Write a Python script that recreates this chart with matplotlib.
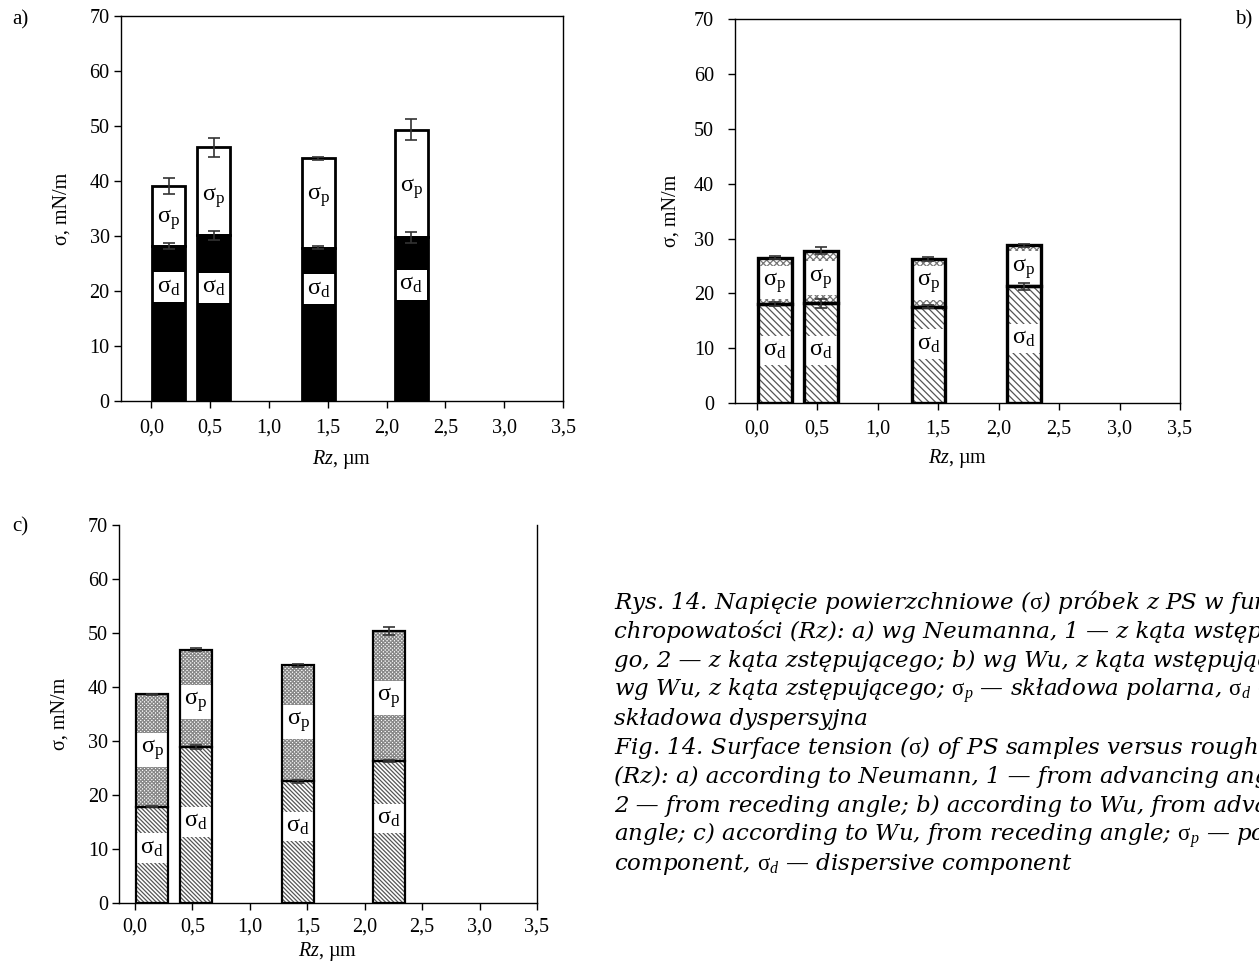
import matplotlib
matplotlib.use("Agg")
import matplotlib.pyplot as plt
import numpy as np

# ---- data -------------------------------------------------------------
rz = [0.15, 0.53, 1.42, 2.21]          # roughness Rz, um (bar centres)
bar_w = 0.28

# a) Neumann
neu_d = [28.2, 30.1, 27.9, 29.8]
neu_p = [10.9, 16.0, 16.2, 19.5]
neu_d_err = [0.5, 0.9, 0.2, 1.0]
neu_tot_err = [1.4, 1.8, 0.2, 1.9]

# b) Wu, advancing angle
wua_d = [18.1, 18.2, 17.6, 21.3]
wua_p = [8.4, 9.6, 8.7, 7.5]
wua_d_err = [0.3, 0.8, 0.3, 0.6]
wua_tot_err = [0.3, 0.6, 0.3, 0.3]

# c) Wu, receding angle
wur_d = [17.9, 29.0, 22.6, 26.3]
wur_p = [20.8, 18.0, 21.5, 24.1]
wur_d_err = [0.1, 0.4, 0.3, 0.2]
wur_tot_err = [0.1, 0.2, 0.3, 0.8]

x_ticks = [0.0, 0.5, 1.0, 1.5, 2.0, 2.5, 3.0, 3.5]
x_tick_labels = ["0,0", "0,5", "1,0", "1,5", "2,0", "2,5", "3,0", "3,5"]
y_ticks = [0, 10, 20, 30, 40, 50, 60, 70]

# vertical placement of the component labels inside the bars
lab_a_p = [32.9, 36.9, 37.1, 38.7]
lab_a_d = [20.7, 20.6, 20.3, 21.1]
lab_b_p = [22.0, 22.8, 21.9, 24.6]
lab_b_d = [9.6, 9.6, 10.8, 11.8]
lab_c_p = [28.4, 37.3, 33.6, 38.0]
lab_c_d = [10.2, 15.1, 14.2, 15.7]

caption = [
    "Rys. 14. Napięcie powierzchniowe ($\\mathrm{\\sigma}$) próbek z PS w funkcji",
    "chropowatości (Rz): a) wg Neumanna, 1 — z kąta wstępujące-",
    "go, 2 — z kąta zstępującego; b) wg Wu, z kąta wstępującego; c)",
    "wg Wu, z kąta zstępującego; $\\mathrm{\\sigma}_p$ — składowa polarna, $\\mathrm{\\sigma}_d$ —",
    "składowa dyspersyjna",
    "Fig. 14. Surface tension ($\\mathrm{\\sigma}$) of PS samples versus roughness",
    "(Rz): a) according to Neumann, 1 — from advancing angle,",
    "2 — from receding angle; b) according to Wu, from advancing",
    "angle; c) according to Wu, from receding angle; $\\mathrm{\\sigma}_p$ — polar",
    "component, $\\mathrm{\\sigma}_d$ — dispersive component",
]

# ---- style ------------------------------------------------------------
plt.rcParams["font.family"] = ["Liberation Serif", "DejaVu Serif"]
plt.rcParams["mathtext.fontset"] = "custom"
plt.rcParams["mathtext.rm"] = "Liberation Serif"
plt.rcParams["mathtext.it"] = "Liberation Serif:italic"
plt.rcParams["hatch.linewidth"] = 0.9

W, H = 1259, 967
fig = plt.figure(figsize=(W / 100, H / 100), dpi=100)


def box(l, r, t, b):
    return [l / W, 1 - b / H, (r - l) / W, (b - t) / H]


def setup(ax, xmin, tick_pad, ylab_pad, xpad=7.5, xlab_pad=8.0,
          right=True, top=True):
    ax.set_xlim(xmin, 3.5)
    ax.set_ylim(0, 70)
    ax.set_xticks(x_ticks)
    ax.set_xticklabels(x_tick_labels)
    ax.set_yticks(y_ticks)
    ax.tick_params(direction="out", length=5, width=1, labelsize=14.5,
                   top=False, right=False)
    ax.tick_params(axis="y", pad=tick_pad)
    ax.tick_params(axis="x", pad=xpad)
    for s in ax.spines.values():
        s.set_linewidth(1.0)
    ax.spines["right"].set_visible(right)
    ax.spines["top"].set_visible(top)
    ax.set_xlabel("$Rz$, µm", fontsize=14.5, labelpad=xlab_pad)
    ax.set_ylabel("σ, mN/m", fontsize=14.5, labelpad=ylab_pad)


def labels(ax, yp, yd, fs=17.5):
    for x, a, b in zip(rz, yp, yd):
        for y, t in ((a, r"$\mathrm{\sigma_{p}}$"), (b, r"$\mathrm{\sigma_{d}}$")):
            ax.text(x, y, t, ha="center", va="center", fontsize=fs, zorder=4,
                    bbox=dict(fc="white", ec="none", pad=3.2))


def errs(ax, d, p, d_err, tot_err, lw=1.2):
    tot = np.add(d, p)
    ax.errorbar(rz, d, yerr=d_err, fmt="none", ecolor="#333333",
                elinewidth=lw, capsize=4, capthick=lw, zorder=6)
    ax.errorbar(rz, tot, yerr=tot_err, fmt="none", ecolor="#333333",
                elinewidth=lw, capsize=4, capthick=lw, zorder=6)


def outline(ax, d, p, lw):
    ax.bar(rz, d, bar_w, fill=False, edgecolor="black", linewidth=lw, zorder=5)
    ax.bar(rz, p, bar_w, bottom=d, fill=False, edgecolor="black",
           linewidth=lw, zorder=5)


def hatched(ax, d, p, hd, hp, cd, cp, lw):
    ax.bar(rz, d, bar_w, color="white", edgecolor=cd, hatch=hd, linewidth=0,
           zorder=2)
    ax.bar(rz, p, bar_w, bottom=d, color="white", edgecolor=cp, hatch=hp,
           linewidth=0, zorder=2)
    outline(ax, d, p, lw)


# a) Neumann
ax_a = fig.add_axes(box(120.7, 563, 16, 401))
ax_a.bar(rz, neu_d, bar_w, color="black", linewidth=0, zorder=2)
ax_a.bar(rz, neu_p, bar_w, bottom=neu_d, color="white", linewidth=0, zorder=2)
outline(ax_a, neu_d, neu_p, 2.0)
labels(ax_a, lab_a_p, lab_a_d)
errs(ax_a, neu_d, neu_p, neu_d_err, neu_tot_err)
setup(ax_a, -0.26, 3, 13)

# b) Wu, advancing
ax_b = fig.add_axes(box(735, 1180, 19, 403.3))
hatched(ax_b, wua_d, wua_p, "\\" * 5, "x" * 5, "#555555", "#777777", 2.4)
labels(ax_b, lab_b_p, lab_b_d)
errs(ax_b, wua_d, wua_p, wua_d_err, wua_tot_err)
setup(ax_b, -0.18, 10, 10, xpad=7, xlab_pad=6)

# c) Wu, receding
ax_c = fig.add_axes(box(119, 537, 525.3, 903.3))
hatched(ax_c, wur_d, wur_p, "\\" * 8, "x" * 9, "#555555", "#888888", 1.6)
labels(ax_c, lab_c_p, lab_c_d)
errs(ax_c, wur_d, wur_p, wur_d_err, wur_tot_err)
setup(ax_c, -0.14, 3, 13, xpad=5, xlab_pad=3, right=True, top=False)

# panel letters
fig.text(12 / W, 1 - 20 / H, "a)", fontsize=15, va="center", ha="left")
fig.text(1252 / W, 1 - 20 / H, "b)", fontsize=15, va="center", ha="right")
fig.text(12 / W, 1 - 527 / H, "c)", fontsize=15, va="center", ha="left")

# caption
for i, line in enumerate(caption):
    fig.text(614 / W, 1 - (609 + 29 * i) / H, line, fontsize=16.5,
             style="italic", family=["DejaVu Serif"], va="baseline",
             ha="left")

fig.savefig("out.png", dpi=100)
